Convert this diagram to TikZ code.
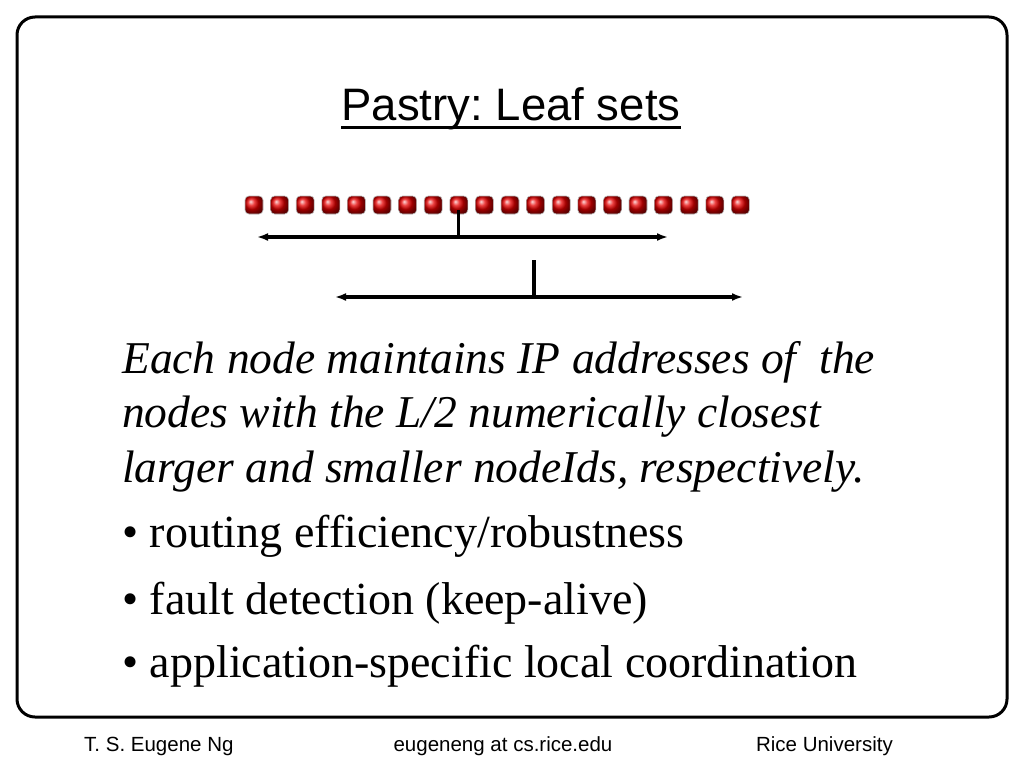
\documentclass[tikz,border=0pt]{standalone}
\usepackage{fontspec}
\setmainfont{Liberation Serif}
\newfontfamily\headfont{Liberation Sans}
\usetikzlibrary{positioning,calc,arrows.meta}
\frenchspacing

\tikzset{
  bead/.style={rounded corners=4pt, minimum width=18pt, minimum height=18pt, inner sep=0pt,
    shading=ball, ball color=red!90!black, draw=gray!55, line width=0.6pt},
  span/.style={line width=3.2pt, {Latex[length=11pt,width=8pt]}-{Latex[length=11pt,width=8pt]}},
  tick/.style={line width=3.2pt},
  lead/.style={anchor=base west, inner sep=0pt, font=\fontsize{45.5}{54}\selectfont\itshape},
  point/.style={anchor=base west, inner sep=0pt, font=\fontsize{46}{55}\selectfont},
  foot/.style={inner sep=0pt, font=\headfont\fontsize{20.5}{24}\selectfont}
}

\begin{document}
\begin{tikzpicture}[x=1pt, y=-1pt]
    \useasboundingbox (0,0) rectangle (1024,768);
    \fill [white] (0,0) rectangle (1024,768);
    \draw [line width=3pt, rounded corners=18pt] (17,17) rectangle (1007,717);

    % title
    \node [inner sep=0pt, anchor=base, font=\headfont\fontsize{45.5}{52}\selectfont] (title) at (511,120) {Pastry: Leaf sets};
    \draw [line width=2.6pt] ([yshift=-7.5pt]title.base west) -- ([yshift=-7.5pt]title.base east);

    % the id space
    \foreach \i in {1,...,20}
        \node [bead] (ball\i) at ({254+25.6*(\i-1)},205) {};

    % leaf set of the 9th node
    \coordinate (lowA) at (257,237);
    \coordinate (highA) at (668,237);
    \coordinate (hubA) at (ball9.south |- lowA);
    \draw [tick] ([yshift=4pt]ball9.south) -- (hubA);
    \draw [span] (lowA) -- (highA);

    % leaf set of the 12th node
    \coordinate (lowB) at (335,297);
    \coordinate (highB) at (743,297);
    \coordinate (hubB) at (534,297);
    \coordinate (topB) at (534,260);
    \draw [tick] (topB) -- (hubB);
    \draw [span] (lowB) -- (highB);

    % text
    \node [lead] (lineA) at (122,373) {Each node maintains IP addresses of \ the};
    \node [lead] (lineB) at (122,427) {nodes with the L/2 numerically closest};
    \node [lead] (lineC) at (122,482) {larger and smaller nodeIds, respectively.};
    \node [point] (pointA) at (122,547) {\textbullet\ routing efficiency/robustness};
    \node [point] (pointB) at (122,614) {\textbullet\ fault detection (keep-alive)};
    \node [point] (pointC) at (122,677) {\textbullet\ application-specific local coordination};

    % footer
    \node [foot, anchor=base west] (author) at (84,751) {T. S. Eugene Ng};
    \node [foot, anchor=base] (mail) at (503,751) {eugeneng at cs.rice.edu};
    \node [foot, anchor=base east] (school) at (893,751) {Rice University};
\end{tikzpicture}
\end{document}
